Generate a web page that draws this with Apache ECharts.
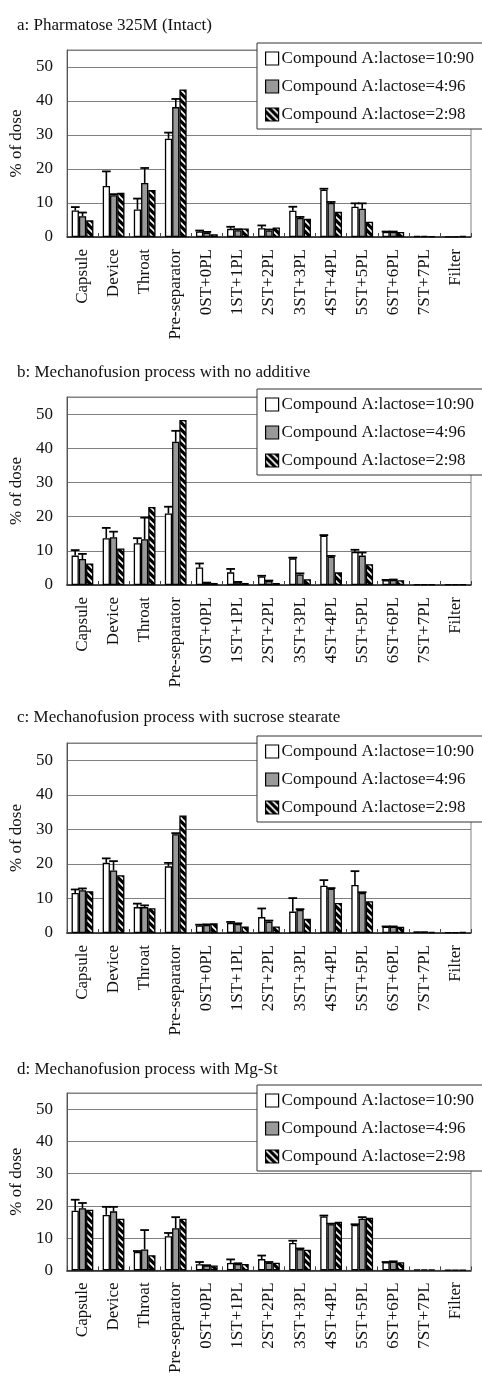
<!DOCTYPE html>
<html>
<head>
<meta charset="utf-8">
<script src="https://cdn.jsdelivr.net/npm/echarts@6/dist/echarts.min.js"></script>
<style>
html,body{margin:0;padding:0;background:#fff;}
#c{width:482px;height:1376px;}
</style>
</head>
<body>
<div id="c"></div>
<script>
// ---- data ----
var categories = ['Capsule','Device','Throat','Pre-separator','0ST+0PL','1ST+1PL','2ST+2PL','3ST+3PL','4ST+4PL','5ST+5PL','6ST+6PL','7ST+7PL','Filter'];
var seriesNames = ['Compound A:lactose=10:90','Compound A:lactose=4:96','Compound A:lactose=2:98'];
var panelTitles = ['a: Pharmatose 325M (Intact)','b: Mechanofusion process with no additive','c: Mechanofusion process with sucrose stearate','d: Mechanofusion process with Mg-St'];
var yTicks = [0,10,20,30,40,50];

// panel a
var a10 = [7.8,15.0,8.1,28.9,1.6,2.4,2.6,7.7,13.9,8.9,1.5,0.3,0.1];
var a4  = [6.1,12.3,15.9,38.2,1.3,2.0,1.9,5.6,10.0,8.3,1.5,0.3,0.1];
var a2  = [4.9,13.0,13.8,43.4,0.8,2.5,2.8,5.4,7.4,4.5,1.5,0.2,0.3];
var a10err = [1.0,4.3,3.2,1.8,0.3,0.6,0.8,1.2,0.3,1.0,0.1,0,0];
var a4err  = [1.1,0.3,4.4,2.4,0.2,0.3,0.3,0.3,0.3,1.6,0.1,0,0];
// panel b
var b10 = [8.6,13.7,12.2,20.9,5.1,3.7,2.5,7.8,14.4,9.7,1.4,0.2,0.2];
var b4  = [7.6,14.0,13.4,41.9,0.6,0.8,1.2,3.1,8.3,8.6,1.5,0.2,0.2];
var b2  = [6.3,10.7,22.8,48.3,0.6,0.6,0.6,1.7,3.7,6.1,1.4,0.2,0.2];
var b10err = [1.6,3.0,1.5,2.0,1.2,1.0,0.2,0.2,0.2,0.6,0.1,0,0];
var b4err  = [1.5,1.6,6.3,3.2,0.1,0.1,0.1,0.3,0.2,0.9,0.1,0,0];
// panel c
var c10 = [11.6,20.3,7.5,19.3,2.2,2.9,4.6,6.2,13.7,13.9,1.8,0.5,0.2];
var c4  = [12.4,18.1,7.5,28.6,2.3,2.6,3.3,6.7,12.8,11.6,1.8,0.5,0.2];
var c2  = [12.1,16.7,7.2,34.0,2.8,1.9,1.9,4.1,8.7,9.2,1.8,0.3,0.3];
var c10err = [1.0,1.3,1.0,1.0,0.2,0.3,2.5,3.9,1.6,4.0,0.1,0,0];
var c4err  = [0.5,2.7,0.5,0.3,0.2,0.2,0.3,0.2,0.2,0.2,0.1,0,0];
// panel d
var d10 = [18.5,17.2,5.7,10.6,1.9,2.3,3.5,8.5,16.7,14.1,2.5,0.3,0.2];
var d4  = [19.3,18.3,6.5,13.1,1.5,2.0,2.4,6.6,14.3,16.0,2.7,0.3,0.2];
var d2  = [18.8,16.0,4.7,16.0,1.5,2.0,2.4,6.4,15.1,16.3,2.5,0.3,0.2];
var d10err = [3.4,2.5,0.3,1.0,0.7,1.1,1.1,0.7,0.3,0.2,0.1,0,0];
var d4err  = [1.6,1.4,6.0,3.4,0.1,0.2,0.2,0.2,0.2,0.5,0.1,0,0];

var panels = [
  {vals:[a10,a4,a2], errs:[a10err,a4err]},
  {vals:[b10,b4,b2], errs:[b10err,b4err]},
  {vals:[c10,c4,c2], errs:[c10err,c4err]},
  {vals:[d10,d4,d2], errs:[d10err,d4err]}
];

// ---- layout ----
var FONT = "'Liberation Serif','Times New Roman',serif";
var gridPos = [
  {left:67, top:50, height:187, titleY:12, legendTop:43, nameGap:40},
  {left:63, top:397, height:188, titleY:359, legendTop:389, nameGap:38},
  {left:62, top:743, height:190, titleY:704, legendTop:736, nameGap:37},
  {left:65, top:1093, height:179, titleY:1056, legendTop:1085, nameGap:40}
];

// hatch pattern
var pc = document.createElement('canvas');
pc.width = 7; pc.height = 7;
var ctx = pc.getContext('2d');
ctx.fillStyle = '#000'; ctx.fillRect(0,0,7,7);
ctx.strokeStyle = '#fff'; ctx.lineWidth = 1.6;
ctx.beginPath();
ctx.moveTo(-1,-1); ctx.lineTo(8,8);
ctx.moveTo(-8,-1); ctx.lineTo(1,8);
ctx.moveTo(6,-1); ctx.lineTo(15,8);
ctx.stroke();
var hatch = {image: pc, repeat: 'repeat'};

var fills = ['#ffffff', '#999999', hatch];

var option = {
  backgroundColor:'#fff',
  animation:false,
  title:[], legend:[], grid:[], xAxis:[], yAxis:[], series:[]
};

panels.forEach(function(p, gi){
  var g = gridPos[gi];
  option.title.push({
    text: panelTitles[gi], left: 12, top: g.titleY,
    textStyle:{fontFamily:FONT, fontSize:17, fontWeight:'normal', color:'#111'}
  });
  option.grid.push({
    left: g.left, right: 11, top: g.top, height: g.height,
    show: true, borderColor:'#808080', borderWidth:1, containLabel:false
  });
  option.xAxis.push({
    type:'category', gridIndex:gi, data:categories,
    axisLine:{show:true, lineStyle:{color:'#222', width:1.5}},
    axisTick:{show:true, inside:true, length:4, lineStyle:{color:'#444'}},
    axisLabel:{rotate:90, margin:12, interval:0, fontFamily:FONT, fontSize:17, color:'#111'}
  });
  option.yAxis.push({
    type:'value', gridIndex:gi, min:0, max:55, interval:10,
    name:'% of dose', nameLocation:'middle', nameGap:g.nameGap, nameRotate:90,
    nameTextStyle:{fontFamily:FONT, fontSize:17, color:'#111'},
    axisLine:{show:true, lineStyle:{color:'#555'}},
    axisTick:{show:false},
    axisLabel:{showMaxLabel:false, margin:14, fontFamily:FONT, fontSize:17, color:'#111',
      formatter:function(v){ return yTicks.indexOf(v) >= 0 ? String(v) : ''; }},
    splitLine:{show:true, lineStyle:{color:'#808080', width:1}}
  });
  p.vals.forEach(function(arr, si){
    option.series.push({
      id:'p'+gi+'s'+si, name:seriesNames[si], type:'bar', xAxisIndex:gi, yAxisIndex:gi,
      data:arr, barGap:'0%', barCategoryGap:'30%', z:2,
      itemStyle:{color:fills[si], borderColor:'#000', borderWidth:1.3}
    });
  });
  p.errs.forEach(function(earr, si){
    var d = categories.map(function(c, ci){ return [ci, p.vals[si][ci], p.vals[si][ci] + earr[ci]]; });
    option.series.push({
      type:'custom', xAxisIndex:gi, yAxisIndex:gi, z:3, silent:true,
      data:d,
      renderItem:(function(k){ return function(params, api){
        var ci = api.value(0), v = api.value(1), top = api.value(2);
        if (top - v < 0.05) return null;
        var band = api.size([1,0])[0];
        var bw = band*0.7/3;
        var base = api.coord([ci, v]);
        var tp = api.coord([ci, top]);
        var x = base[0] + (k-1)*bw;
        var half = bw*0.6;
        return {type:'group', children:[
          {type:'line', shape:{x1:x, y1:base[1], x2:x, y2:tp[1]}, style:{stroke:'#000', lineWidth:1.6}},
          {type:'line', shape:{x1:x-half, y1:tp[1], x2:x+half, y2:tp[1]}, style:{stroke:'#000', lineWidth:1.8}}
        ]};
      };})(si)
    });
  });
  option.legend.push({
    data: seriesNames.slice(),
    left: 257, top: g.legendTop, orient:'vertical',
    width: 240,
    padding:[7,30,6,8],
    itemWidth:13, itemHeight:13, itemGap:11,
    backgroundColor:'#fff', borderColor:'#333', borderWidth:1, borderRadius:0,
    icon:'rect', selectedMode:false,
    textStyle:{fontFamily:FONT, fontSize:17, color:'#111', padding:[0,0,0,-2]},
    itemStyle:{borderColor:'#000', borderWidth:1.2},
    z: 10
  });
});

var chart = echarts.init(document.getElementById('c'), null, {renderer:'canvas'});
chart.setOption(option);
</script>
</body>
</html>
